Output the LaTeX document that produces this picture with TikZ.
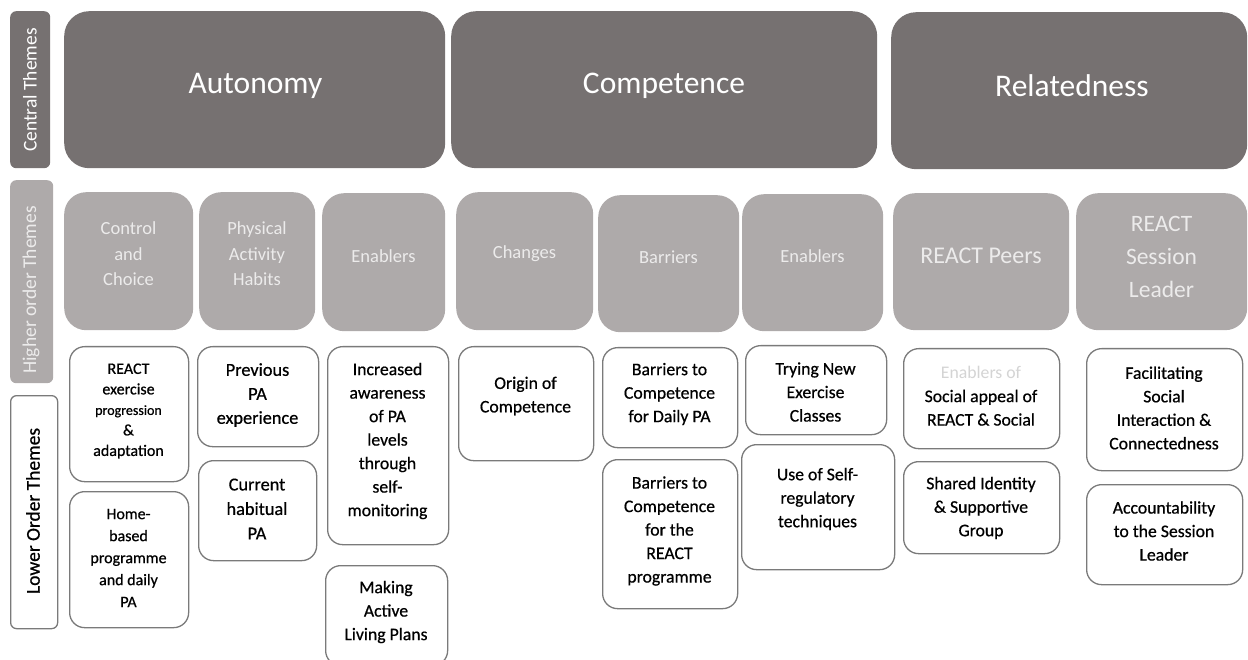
\documentclass[tikz,border=0pt]{standalone}
\usepackage{fontspec}
\setmainfont{Carlito}
\newfontfamily\semib[FakeBold=0.6]{Carlito}
\definecolor{darkg}{HTML}{767171}
\definecolor{lightg}{HTML}{AEAAAA}
\definecolor{htext}{HTML}{ECEBEB}
\definecolor{bord}{HTML}{7A7A7A}
\definecolor{fainttext}{HTML}{D4D4D4}
\begin{document}
\begin{tikzpicture}[x=1pt,y=-1pt,
  central/.style={fill=darkg,draw=none,rounded corners=25pt,inner sep=0pt,anchor=north west},
  higher/.style={fill=lightg,draw=none,rounded corners=22pt,inner sep=0pt,anchor=north west},
  lower/.style={fill=white,draw=bord,line width=1.3pt,rounded corners=15pt,inner sep=0pt,anchor=north west},
  sidedark/.style={fill=darkg,draw=none,rounded corners=6pt,inner sep=0pt,anchor=north west},
  sidelight/.style={fill=lightg,draw=none,rounded corners=6pt,inner sep=0pt,anchor=north west},
  sidewhite/.style={fill=white,draw=bord,line width=1.3pt,rounded corners=6pt,inner sep=0pt,anchor=north west},
  ctext/.style={text=white,font=\fontsize{31.5}{36}\selectfont,inner sep=0pt},
  htxt/.style={text=htext,font=\fontsize{18.5}{25.5}\selectfont,align=center,inner sep=0pt},
  ltxt/.style={text=black,font=\semib\fontsize{17.7}{23.5}\selectfont,align=center,inner sep=0pt},
  sidetxt/.style={font=\fontsize{19.5}{22}\selectfont,rotate=90,inner sep=0pt}]
\useasboundingbox (0,0) rectangle (1248,660);

% side labels
\node[sidedark,minimum width=40pt,minimum height=157pt] (sc) at (10,11) {};
\node[sidetxt,text=white] (sct) at (30,90) {Central Themes};
\node[sidelight,minimum width=43pt,minimum height=203pt] (sh) at (10,180) {};
\node[sidetxt,text=htext] (sht) at (31,290) {Higher order Themes};
\node[sidewhite,minimum width=47pt,minimum height=233pt] (sl) at (10,395) {};
\node[sidetxt,text=black,font=\semib\fontsize{19.5}{22}\selectfont] (slt) at (33,511) {Lower Order Themes};

% central themes
\node[central,minimum width=381pt,minimum height=157pt] (auto) at (64,11) {};
\node[ctext] (autot) at (255.5,86) {Autonomy};
\node[central,minimum width=426pt,minimum height=157pt] (comp) at (451,11) {};
\node[ctext] (compt) at (664,86) {Competence};
\node[central,minimum width=356pt,minimum height=157pt] (rel) at (891,12) {};
\node[ctext] (relt) at (1072,86) {Relatedness};

% higher order themes
\node[higher,minimum width=129pt,minimum height=138pt] (h1) at (64,192) {};
\node[htxt] (h1t) at (128.5,254) {Control\\and\\Choice};
\node[higher,minimum width=116pt,minimum height=138pt] (h2) at (199,192) {};
\node[htxt] (h2t) at (257,254) {Physical\\Activity\\Habits};
\node[higher,minimum width=123pt,minimum height=138pt] (h3) at (322,193) {};
\node[htxt] (h3t) at (383.5,256) {Enablers};
\node[higher,minimum width=137pt,minimum height=138pt] (h4) at (456,192) {};
\node[htxt] (h4t) at (524.5,254) {Changes};
\node[higher,minimum width=141pt,minimum height=137pt] (h5) at (598,195) {};
\node[htxt] (h5t) at (668.5,257) {Barriers};
\node[higher,minimum width=141pt,minimum height=137pt] (h6) at (742,194) {};
\node[htxt] (h6t) at (812.5,256) {Enablers};
\node[higher,minimum width=176pt,minimum height=137pt] (h7) at (893,193) {};
\node[htxt,font=\fontsize{24}{33}\selectfont] (h7t) at (981,256) {REACT Peers};
\node[higher,minimum width=171pt,minimum height=137pt] (h8) at (1076,193) {};
\node[htxt,font=\fontsize{23.5}{33}\selectfont] (h8t) at (1161.5,257) {REACT\\Session\\Leader};

% lower order themes
\node[lower,minimum width=119pt,minimum height=135pt] (l1) at (69,346) {};
\node[ltxt,font=\semib\fontsize{16}{20.5}\selectfont] (l1t) at (128.5,411)
  {REACT\\exercise\\{\fontsize{14}{20.5}\selectfont progression}\\\&\\adaptation};
\node[lower,minimum width=119pt,minimum height=136pt] (l2) at (69,491) {};
\node[ltxt,font=\semib\fontsize{16}{22}\selectfont] (l2t) at (128.5,558)
  {Home-\\based\\programme\\and daily\\PA};
\node[lower,minimum width=121pt,minimum height=100pt] (l3) at (197,346) {};
\node[ltxt,font=\semib\fontsize{18.3}{24}\selectfont] (l3t) at (257.5,395) {Previous\\PA\\experience};
\node[lower,minimum width=118pt,minimum height=100pt] (l4) at (198,460) {};
\node[ltxt,font=\semib\fontsize{18.3}{24.5}\selectfont] (l4t) at (257,509) {Current\\habitual\\PA};
\node[lower,minimum width=121pt,minimum height=198pt] (l5) at (327,346) {};
\node[ltxt] (l5t) at (387.5,441) {Increased\\awareness\\of PA\\levels\\through\\self-\\monitoring};
\node[lower,minimum width=122pt,minimum height=100pt] (l6) at (325,565) {};
\node[ltxt] (l6t) at (386,612) {Making\\Active\\Living Plans};
\node[lower,minimum width=135pt,minimum height=114pt] (l7) at (458,346) {};
\node[ltxt] (l7t) at (525.5,396) {Origin of\\Competence};
\node[lower,minimum width=135pt,minimum height=100pt] (l8) at (602,347) {};
\node[ltxt] (l8t) at (669.5,394) {Barriers to\\Competence\\for Daily PA};
\node[lower,minimum width=135pt,minimum height=149pt] (l9) at (602,459) {};
\node[ltxt] (l9t) at (669.5,531) {Barriers to\\Competence\\for the\\REACT\\programme};
\node[lower,minimum width=141pt,minimum height=89pt] (l10) at (745,345) {};
\node[ltxt] (l10t) at (815.5,392) {Trying New\\Exercise\\Classes};
\node[lower,minimum width=153pt,minimum height=125pt] (l11) at (741,444) {};
\node[ltxt] (l11t) at (817.5,499) {Use of Self-\\regulatory\\techniques};
\node[lower,minimum width=156pt,minimum height=100pt] (l12) at (903,348) {};
\node[ltxt] (l12t) at (981,396) {{\color{fainttext}\mdseries\normalfont\fontsize{17.7}{23.5}\selectfont Enablers of}\\Social appeal of\\REACT \& Social};
\node[lower,minimum width=156pt,minimum height=92pt] (l13) at (903,461) {};
\node[ltxt] (l13t) at (981,508) {Shared Identity\\\& Supportive\\Group};
\node[lower,minimum width=156pt,minimum height=122pt] (l14) at (1086,348) {};
\node[ltxt] (l14t) at (1164,408) {Facilitating\\Social\\Interaction \&\\Connectedness};
\node[lower,minimum width=156pt,minimum height=100pt] (l15) at (1086,484) {};
\node[ltxt] (l15t) at (1164,531) {Accountability\\to the Session\\Leader};
\end{tikzpicture}
\end{document}
